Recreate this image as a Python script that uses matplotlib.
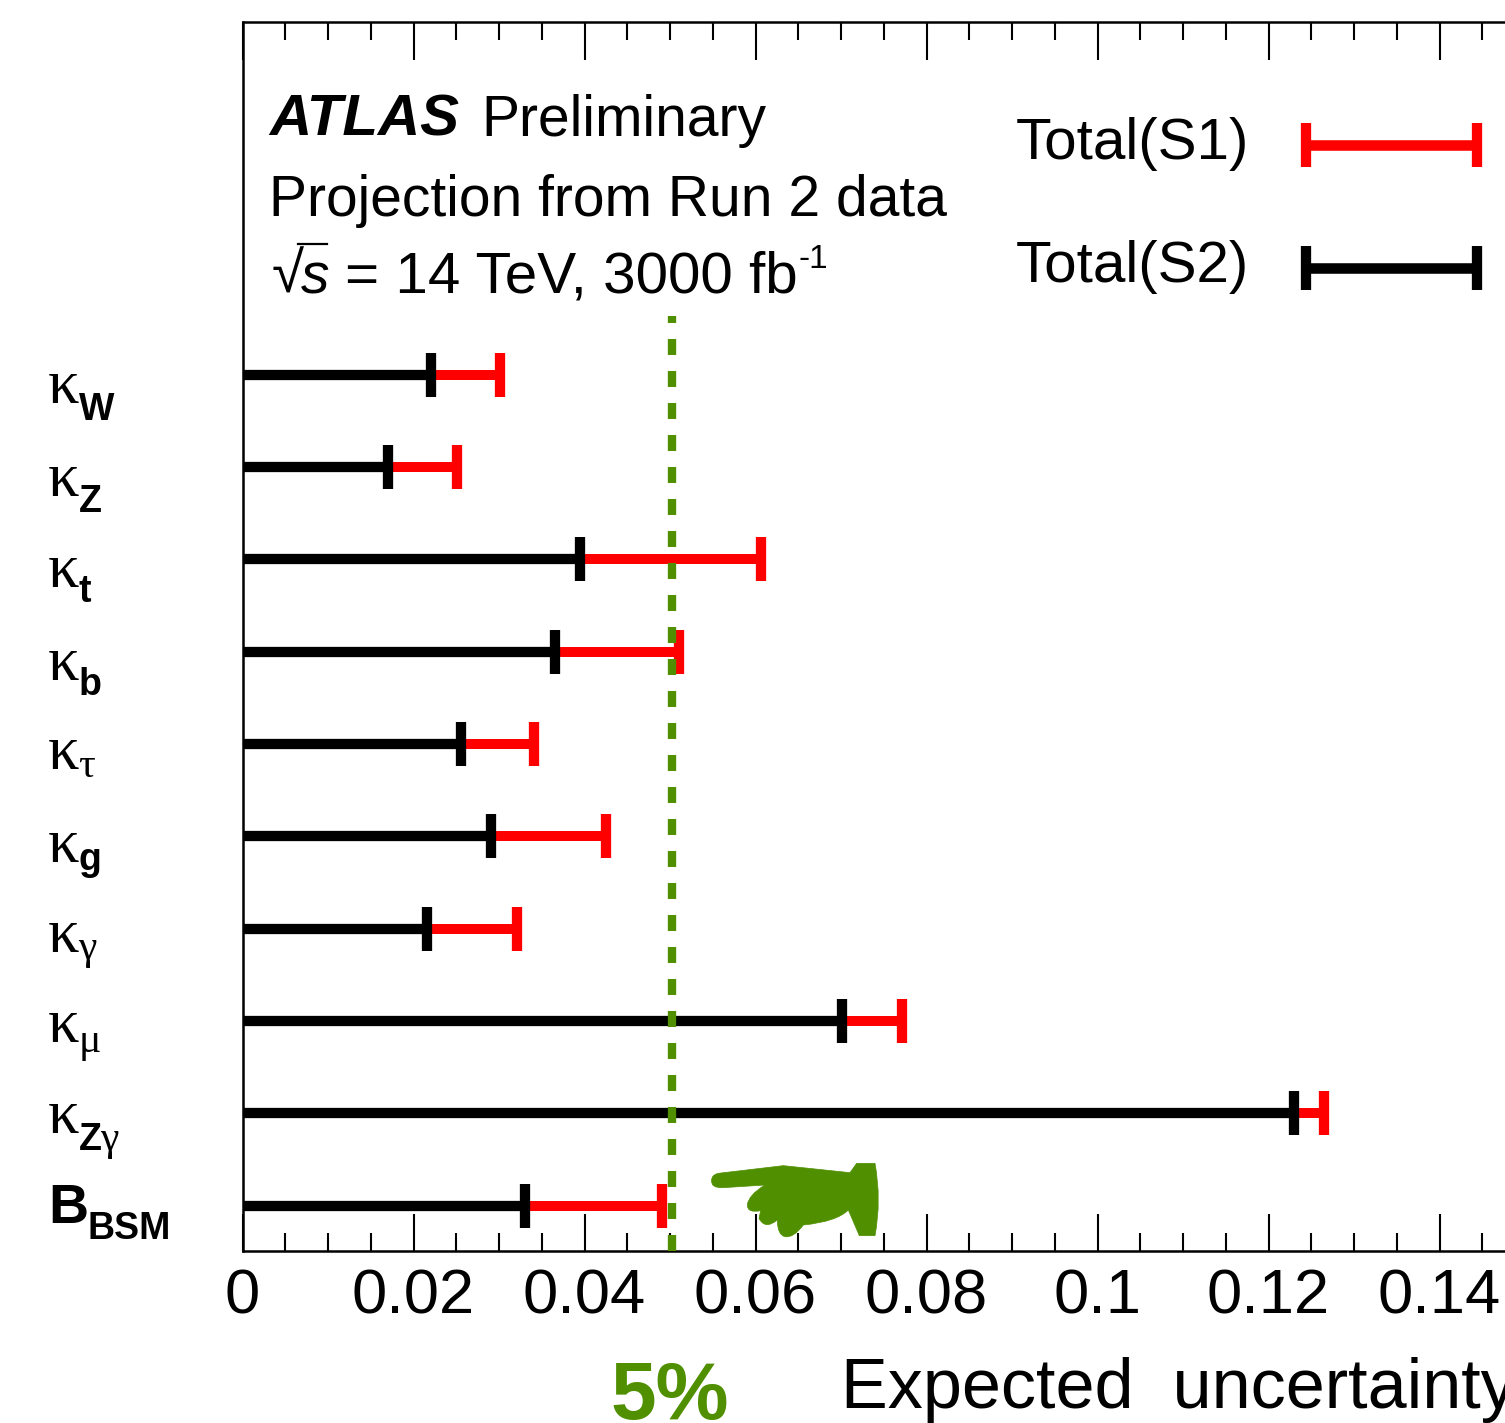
# encoding:utf-8
import matplotlib
matplotlib.use("Agg")
import matplotlib.pyplot as plt
from matplotlib.path import Path
from matplotlib.patches import PathPatch
from matplotlib.ticker import MultipleLocator, FuncFormatter

W, H = 1505, 1423

# 各耦合参数
labels = [
    [("κ", "serif"), ("W", "bold")],
    [("κ", "serif"), ("Z", "bold")],
    [("κ", "serif"), ("t", "bold")],
    [("κ", "serif"), ("b", "bold")],
    [("κ", "serif"), ("τ", "sub")],
    [("κ", "serif"), ("g", "bold")],
    [("κ", "serif"), ("γ", "sub")],
    [("κ", "serif"), ("μ", "sub")],
    [("κ", "serif"), ("Z", "bold"), ("γ", "sub")],
    [("B", "big"), ("BSM", "bold")],
]
# 总不确定度
total_s1 = [0.0301, 0.0251, 0.0606, 0.0511, 0.0341, 0.0425, 0.0321, 0.0771, 0.1265, 0.0491]
total_s2 = [0.0220, 0.0170, 0.0395, 0.0365, 0.0256, 0.0291, 0.0216, 0.0701, 0.1230, 0.0330]
five_percent = 0.0502

# 标签基线相对每行的偏移(像素)
main_dy = [28, 29, 27, 28, 25, 25.5, 23, 21, 20, 17.5]
sub_dy = [45, 44.5, 42, 43, 33, 33.5, 30, 31, 37, 33.5]

RED = "#ff0000"
BLACK = "#000000"
GREEN = "#4f8f00"
plt.rcParams["font.family"] = ["Liberation Sans", "DejaVu Sans"]


def fx(px):
    return px / W


def fy(py):
    return 1 - py / H


fig = plt.figure(figsize=(W / 100, H / 100), dpi=100)
# 右边超出画布,和原图一样被裁掉
ax = fig.add_axes([fx(242.5), fy(1251), 0.15 * 8550 / W, (1251 - 22) / H])
ax.set_xlim(0, 0.15)
ax.set_ylim(9.49, -3.82)
ax.spines["left"].set_linewidth(1.8)
ax.spines["top"].set_linewidth(1.8)
ax.spines["bottom"].set_linewidth(1.8)
ax.spines["right"].set_visible(False)

ax.xaxis.set_major_locator(MultipleLocator(0.02))
ax.xaxis.set_minor_locator(MultipleLocator(0.005))
ax.xaxis.set_major_formatter(FuncFormatter(lambda v, p: "0" if v == 0 else "%g" % round(v, 2)))
ax.tick_params(axis="x", which="major", direction="in", top=True, length=27, width=1.5,
               labelsize=45.5, pad=12)
ax.tick_params(axis="x", which="minor", direction="in", top=True, length=13, width=1.5)
ax.set_yticks([])

# 横线和端帽
rows = list(range(len(labels)))
for i in rows:
    ax.plot([0, total_s1[i]], [i, i], color=RED, lw=7.2, solid_capstyle="butt", zorder=2)
    ax.plot([total_s1[i]], [i], color=RED, marker="|", ms=32, mew=7.4, zorder=2)
for i in rows:
    ax.plot([0, total_s2[i]], [i, i], color=BLACK, lw=7.4, solid_capstyle="butt", zorder=3)
    ax.plot([total_s2[i]], [i], color=BLACK, marker="|", ms=32, mew=7.4, zorder=3)

# 5%虚线,从下往上画
ax.plot([five_percent, five_percent], [9.49, -0.64], color=GREEN, lw=6, zorder=4,
        linestyle=(0, (1.92, 1.92)), dash_capstyle="butt")

# 左边标签
renderer = fig.canvas.get_renderer()
for i, parts in enumerate(labels):
    row = 375 + i * 92.3
    xpos = 48
    for text, kind in parts:
        if kind == "serif":
            t = fig.text(fx(xpos), fy(row + main_dy[i]), text, family="Liberation Serif", fontsize=45)
        elif kind == "big":
            t = fig.text(fx(xpos), fy(row + main_dy[i]), text, fontweight="bold", fontsize=40)
        elif kind == "sub":
            t = fig.text(fx(xpos), fy(row + sub_dy[i]), text, family="Liberation Serif", fontsize=30)
        else:
            t = fig.text(fx(xpos), fy(row + sub_dy[i]), text, fontweight="bold", fontsize=27)
        xpos = t.get_window_extent(renderer).x1 - 1

# 左上角文字
fig.text(fx(269), fy(136), "ATLAS", fontweight="bold", style="italic", fontsize=42)
fig.text(fx(481), fy(136), "Preliminary", fontsize=41)
fig.text(fx(269), fy(216), "Projection from Run 2 data", fontsize=41)
fig.text(fx(272), fy(293), "√", fontsize=42)
fig.add_artist(plt.Line2D([fx(298), fx(327)], [fy(244), fy(244)], color=BLACK, lw=1.6))
fig.text(fx(301), fy(293), "s", style="italic", fontsize=41)
fig.text(fx(345), fy(293), "= 14 TeV, 3000 fb", fontsize=42)
fig.text(fx(799), fy(268), "-1", fontsize=24)

# 图例
fig.text(fx(1016), fy(159), "Total(S1)", fontsize=42)
fig.text(fx(1016), fy(282), "Total(S2)", fontsize=42)
for color, py in [(RED, 145), (BLACK, 268)]:
    fig.add_artist(plt.Line2D([fx(1306), fx(1477)], [fy(py), fy(py)], color=color, lw=7.6,
                              solid_capstyle="butt"))
    for px in [1306, 1477]:
        fig.add_artist(plt.Line2D([fx(px)], [fy(py)], color=color, marker="|", ms=32, mew=7.4))

# 坐标轴标题和5%
fig.text(fx(841), fy(1408), "Expected  uncertainty", fontsize=50.5)
fig.text(fx(610), fy(1419), "5%", color=GREEN, fontweight="bold", fontsize=59)

# 手形
hand = [((85, 100), Path.MOVETO), ((280, 77), Path.LINETO), ((480, 98), Path.LINETO),
        ((500, 70), Path.LINETO), ((555, 70), Path.LINETO),
        ((575, 180), Path.CURVE3), ((555, 287), Path.CURVE3),
        ((508, 287), Path.LINETO), ((475, 210), Path.LINETO),
        ((440, 245), Path.CURVE3), ((340, 255), Path.CURVE3),
        ((310, 295), Path.CURVE3), ((285, 290), Path.CURVE3),
        ((262, 285), Path.CURVE3), ((262, 240), Path.CURVE3),
        ((225, 270), Path.CURVE3), ((207, 235), Path.CURVE3),
        ((212, 212), Path.LINETO),
        ((172, 220), Path.CURVE3), ((172, 195), Path.CURVE3),
        ((175, 165), Path.CURVE3), ((225, 135), Path.CURVE3),
        ((100, 143), Path.LINETO),
        ((62, 145), Path.CURVE3), ((65, 120), Path.CURVE3),
        ((65, 105), Path.CURVE3), ((85, 100), Path.CURVE3)]
pts = [(fx(690 + p[0] / 3), fy(1140 + p[1] / 3)) for p, c in hand]
codes = [c for p, c in hand]
fig.add_artist(PathPatch(Path(pts, codes), facecolor=GREEN, edgecolor=GREEN, lw=0.5,
                         transform=fig.transFigure, zorder=5))

plt.savefig("out.png", dpi=100)
